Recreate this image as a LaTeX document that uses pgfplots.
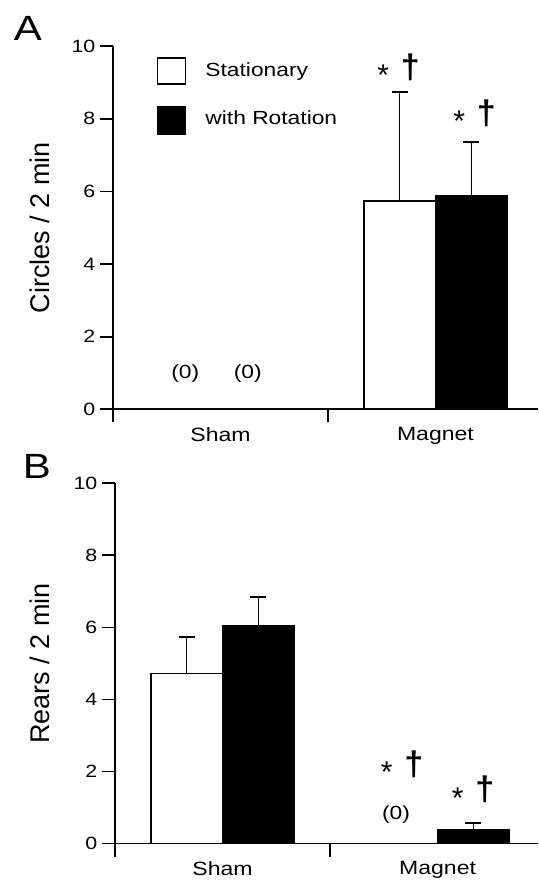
\documentclass[border=0pt]{standalone}
\usepackage{fontspec}
\setmainfont{Liberation Sans}[FakeStretch=1.2]
\newfontfamily\plainsans{Liberation Sans}
\usepackage{pgfplots}
\pgfplotsset{compat=1.18}
\usetikzlibrary{calc}

\pgfplotsset{
  panel/.style={
    scale only axis,
    xmin=0, ymin=0, ymax=10,
    axis x line=bottom, axis y line=left,
    axis line style={-, line width=0.85pt},
    every tick/.style={black, line width=0.85pt},
    tick align=outside,
    major tick length=6.5pt,
    ytick={0,2,...,10},
    yticklabels={0,2,4,6,8,10},
    xtick={0,1}, xticklabels={},
    extra x ticks={0.5,1.5},
    extra x tick labels={Sham,Magnet},
    extra x tick style={major tick length=0pt,
      xticklabel style={font=\fontsize{9.6}{11}\selectfont, yshift=-5.5pt}},
    yticklabel style={font=\fontsize{8.9}{10}\selectfont, xshift=1.2pt},
    ylabel style={font=\plainsans\fontsize{13.5}{15}\selectfont, anchor=center},
    clip=false,
  },
  bars/.style={ybar, bar width=0.333, draw=black, line width=0.85pt,
    error bars/y dir=plus, error bars/y explicit,
    error bars/error bar style={line width=0.85pt},
    error bars/error mark options={rotate=90, line width=0.85pt, mark size=4pt}},
}

\newcommand{\sig}[2]{%
  \node[inner sep=0pt, font=\plainsans\fontsize{15}{16}\selectfont] at ($(#1,#2)+(0,-3.2pt)$) {*};
  \node[inner sep=0pt, font=\plainsans\bfseries\fontsize{17}{18}\selectfont] at ($(#1,#2)+(13.5pt,1pt)$) {†};}

\begin{document}
\begin{tikzpicture}
\useasboundingbox (0,0) rectangle (269pt,-444pt);

% A
\begin{axis}[panel, at={(56.5pt,-204.65pt)}, anchor=south west,
  width=212.5pt, height=181.55pt, xmax=1.977,
  ylabel={Circles / 2 min},
  ylabel style={at={(axis description cs:-0.173,0.5)}}]
\addplot[bars, fill=white] coordinates {(1.333,5.74) +- (0,2.99)};
\addplot[bars, fill=black] coordinates {(1.667,5.89) +- (0,1.48)};
\end{axis}

% B
\begin{axis}[panel, at={(57.5pt,-421.75pt)}, anchor=south west,
  width=211.5pt, height=180.1pt, xmax=1.967,
  ylabel={Rears / 2 min},
  ylabel style={at={(axis description cs:-0.1785,0.5)}}]
\addplot[bars, fill=white] coordinates {(0.333,4.72) +- (0,1.02)};
\addplot[bars, fill=black] coordinates {(0.667,6.05) +- (0,0.80)};
\addplot[bars, fill=black] coordinates {(1.667,0.39) +- (0,0.17)};
\end{axis}

% panel letters
\node[anchor=base west, inner sep=0pt, font=\fontsize{17.5}{19}\selectfont] at (6.75pt,-20.5pt) {A};
\node[anchor=base west, inner sep=0pt, font=\fontsize{17.5}{19}\selectfont] at (11.2pt,-239pt) {B};

% legend
\draw[line width=0.9pt, fill=white] (78.75pt,-29pt) rectangle (92.75pt,-42pt);
\draw[line width=0.9pt, fill=black] (78.75pt,-53.5pt) rectangle (92.75pt,-67pt);
\node[anchor=base west, inner sep=0pt, font=\fontsize{9.5}{11}\selectfont] at (102.5pt,-38.25pt) {Stationary};
\node[anchor=base west, inner sep=0pt, font=\fontsize{9.5}{11}\selectfont] at (102.5pt,-62.5pt) {with Rotation};

% zero labels
\node[font=\fontsize{9.5}{11}\selectfont] at (92.65pt,-187pt) {(0)};
\node[font=\fontsize{9.5}{11}\selectfont] at (123.9pt,-187pt) {(0)};
\node[font=\fontsize{9.5}{11}\selectfont] at (198pt,-407.5pt) {(0)};

% significance marks
\sig{191.65pt}{-34.5pt}
\sig{229.65pt}{-57.5pt}
\sig{193.35pt}{-383pt}
\sig{228.85pt}{-395.85pt}
\end{tikzpicture}
\end{document}
